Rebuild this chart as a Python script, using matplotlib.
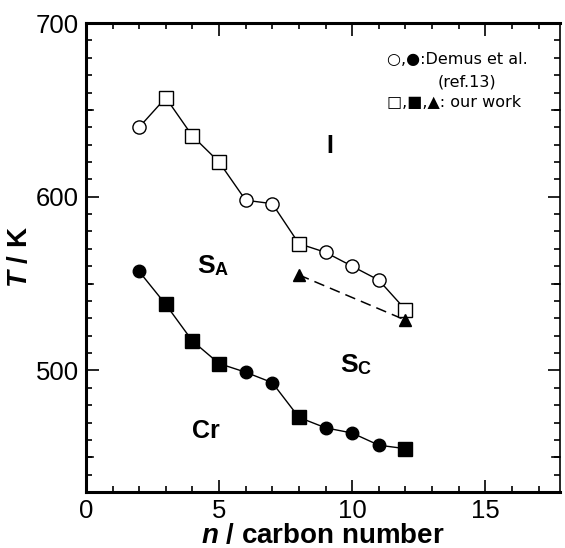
import matplotlib
matplotlib.use('Agg')
import matplotlib.pyplot as plt
from matplotlib.ticker import MultipleLocator, FixedLocator

plt.rcParams['font.family'] = ['Liberation Sans', 'DejaVu Sans']
plt.rcParams['mathtext.fontset'] = 'custom'
plt.rcParams['mathtext.rm'] = 'Liberation Sans'
plt.rcParams['mathtext.bfit'] = 'Liberation Sans:italic:bold'

# clearing points (upper curve): open circle = Demus, open square = our work
n_upper = [2, 3, 4, 5, 6, 7, 8, 9, 10, 11, 12]
T_upper = [640, 657, 635, 620, 598, 596, 573, 568, 560, 552, 535]
kind_upper = ['o', 's', 's', 's', 'o', 'o', 's', 'o', 'o', 'o', 's']

# melting points (lower curve): filled circle = Demus, filled square = our work
n_lower = [2, 3, 4, 5, 6, 7, 8, 9, 10, 11, 12]
T_lower = [557, 538, 517, 504, 499, 493, 473, 467, 464, 457, 455]
kind_lower = ['o', 's', 's', 's', 'o', 'o', 's', 'o', 'o', 'o', 's']

# SA-SC transition (our work)
n_tri = [8, 12]
T_tri = [555, 529]

fig = plt.figure(figsize=(5.65, 5.48), dpi=100)
ax = fig.add_axes([0.152, 0.102, 0.839, 0.856])

ax.plot(n_upper, T_upper, '-', color='black', lw=1.0, zorder=2)
ax.plot(n_lower, T_lower, '-', color='black', lw=1.0, zorder=2)
ax.plot(n_tri, T_tri, '--', color='black', lw=1.1, dashes=(7, 4), zorder=2)

for m in ['o', 's']:
    xs = [n for n, k in zip(n_upper, kind_upper) if k == m]
    ys = [t for t, k in zip(T_upper, kind_upper) if k == m]
    ax.plot(xs, ys, m, ms=9.5 if m == 'o' else 10, mfc='white', mec='black', mew=1.0, zorder=3)
    xs = [n for n, k in zip(n_lower, kind_lower) if k == m]
    ys = [t for t, k in zip(T_lower, kind_lower) if k == m]
    ax.plot(xs, ys, m, ms=9 if m == 'o' else 9.5, mfc='black', mec='black', zorder=3)
ax.plot(n_tri, T_tri, '^', ms=8, color='black', zorder=3)

ax.set_xlim(0, 17.8)
ax.set_ylim(430, 700)

ax.xaxis.set_major_locator(MultipleLocator(5))
ax.xaxis.set_minor_locator(MultipleLocator(1))
ax.yaxis.set_major_locator(FixedLocator([500, 600, 700]))
ax.yaxis.set_minor_locator(MultipleLocator(10))
ax.tick_params(which='both', direction='in', top=True, right=True, width=1.2)
ax.tick_params(which='major', length=9, labelsize=18.5, pad=5)
ax.tick_params(which='minor', length=4.5)
# longer ticks at 450/550/650
for t in [450, 550, 650]:
    ax.plot([0, 0.28], [t, t], color='black', lw=1.2, clip_on=False, zorder=4)
    ax.plot([17.52, 17.8], [t, t], color='black', lw=1.2, clip_on=False, zorder=4)

for s in ['left', 'bottom', 'top']:
    ax.spines[s].set_linewidth(2.2)
ax.spines['right'].set_linewidth(1.2)

ax.set_xlabel(r'$\mathbfit{n}$ / carbon number', fontsize=20, fontweight='bold', labelpad=0)
ax.set_ylabel(r'$\mathbfit{T}$ / K', fontsize=20, fontweight='bold', labelpad=2)

# phase labels
ax.text(9.15, 629, 'I', fontsize=18, fontweight='bold', ha='center', va='center')
ax.text(4.85, 560, 'S', fontsize=19, fontweight='bold', ha='right', va='center')
ax.text(4.85, 557.5, 'A', fontsize=13, fontweight='bold', ha='left', va='center')
ax.text(10.2, 503, 'S', fontsize=19, fontweight='bold', ha='right', va='center')
ax.text(10.2, 500.5, 'C', fontsize=13, fontweight='bold', ha='left', va='center')
ax.text(4.5, 465, 'Cr', fontsize=18, fontweight='bold', ha='center', va='center')

# legend text
leg_font = ['DejaVu Sans']
ax.text(11.3, 679, '○,●:Demus et al.', fontsize=11.5, family=leg_font, ha='left', va='center')
ax.text(14.3, 666, '(ref.13)', fontsize=11.5, family=leg_font, ha='center', va='center')
ax.text(11.3, 654, '□,■,▲: our work', fontsize=11.5, family=leg_font, ha='left', va='center')

fig.savefig('out.png', dpi=100)
